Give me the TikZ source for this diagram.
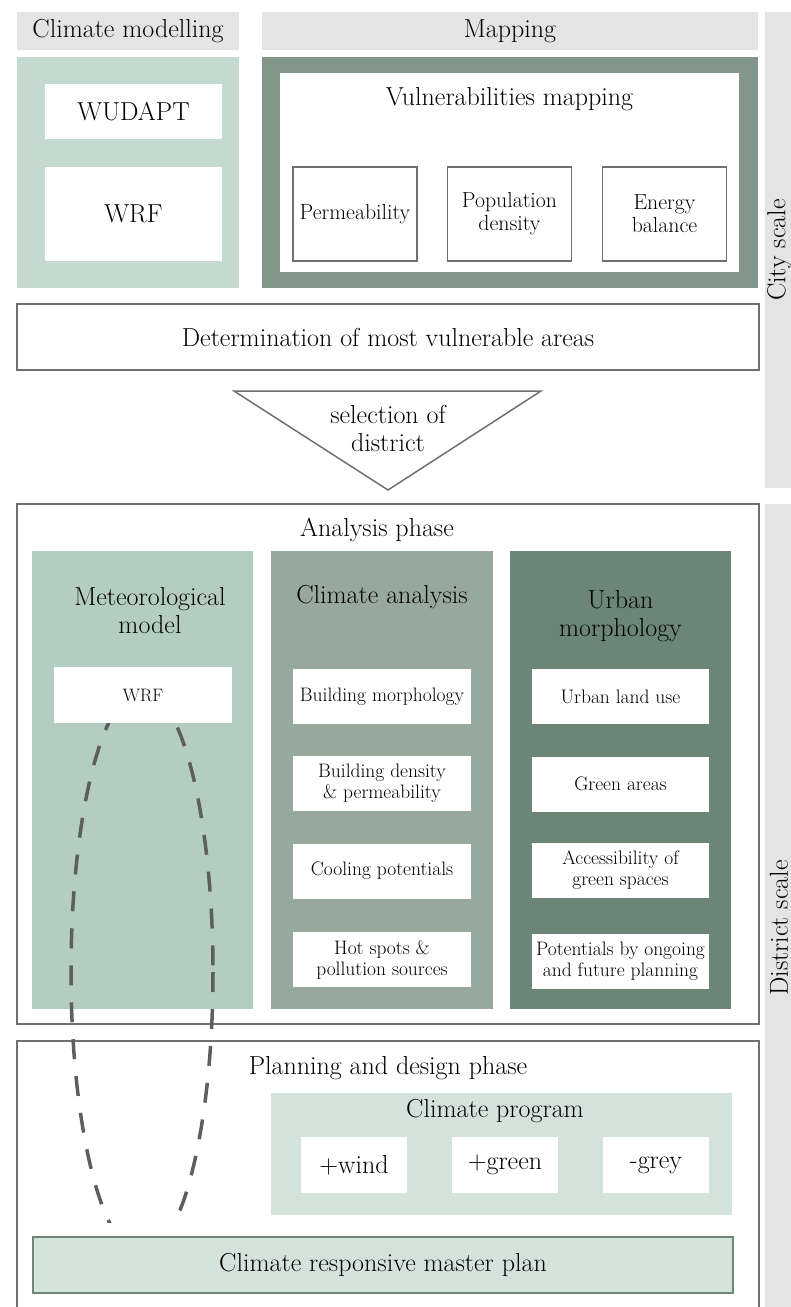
\documentclass[tikz,border=0pt]{standalone}
\usepackage{fontspec}
\usepackage{tikz}
\usepackage{xcolor}
\usetikzlibrary{positioning}

\definecolor{bandgrey}{HTML}{E4E4E4}
\definecolor{linegrey}{HTML}{707070}
\definecolor{dashgrey}{HTML}{5E5E5E}
\definecolor{climfill}{HTML}{C4D9CF}
\definecolor{mapfill}{HTML}{82978A}
\definecolor{meteofill}{HTML}{B3CDC1}
\definecolor{anafill}{HTML}{97A89F}
\definecolor{urbfill}{HTML}{6B8676}
\definecolor{progfill}{HTML}{D3E2DB}
\definecolor{mastline}{HTML}{6F8777}

\begin{document}
\begin{tikzpicture}[x=1pt, y=-1pt,
	bigtxt/.style={font=\fontsize{26}{28}\selectfont},
	midtxt/.style={font=\fontsize{21.8}{23}\selectfont},
	smltxt/.style={font=\fontsize{19.5}{21}\selectfont},
	band/.style={fill=bandgrey, inner sep=0pt, bigtxt},
	panel/.style={inner sep=0pt, minimum width=221pt, minimum height=458pt},
	wbox/.style={fill=white, inner sep=0pt, align=center},
	item/.style={wbox, smltxt, minimum width=178pt, minimum height=55pt},
	outbox/.style={draw=linegrey, line width=2pt, inner sep=0pt}]

\useasboundingbox (0,0) rectangle (791,1307);

\node[band, minimum width=222pt, minimum height=38pt](ClimHd) at (128,31) {Climate modelling};
\node[band, minimum width=496pt, minimum height=38pt](MapHd) at (510,31) {Mapping};
\node[band, minimum width=26pt, minimum height=476pt](CityBar) at (778,250) {};
\node[bigtxt, rotate=90](CitySc) at (779,250) {City scale};
\node[band, minimum width=26pt, minimum height=803pt](DistBar) at (778,905.5) {};
\node[bigtxt, rotate=90](DistSc) at (779,928) {District scale};

\node[fill=climfill, inner sep=0pt, minimum width=222pt, minimum height=231pt](Clim) at (128,172.5) {};
\node[wbox, bigtxt, minimum width=177pt, minimum height=55pt](Wud) at (133.5,111.5) {WUDAPT};
\node[wbox, bigtxt, minimum width=177pt, minimum height=94pt](WrfC) at (133.5,214) {WRF};

\node[fill=mapfill, inner sep=0pt, minimum width=496pt, minimum height=231pt](Map) at (510,172.5) {};
\node[wbox, minimum width=459pt, minimum height=199pt](Vuln) at (509.5,172.5) {};
\node[bigtxt](VulnT) at (509.5,99) {Vulnerabilities mapping};
\node[wbox, midtxt, draw=linegrey, line width=1.5pt, minimum width=124pt, minimum height=94pt](Perm) at (355,214) {Permeability};
\node[wbox, midtxt, draw=linegrey, line width=1.5pt, minimum width=124pt, minimum height=94pt](Popu) at (509.5,214) {Population\\density};
\node[wbox, midtxt, draw=linegrey, line width=1.5pt, minimum width=124pt, minimum height=94pt](Ener) at (664.5,214) {Energy\\balance};

\node[outbox, bigtxt, minimum width=742pt, minimum height=66pt](Det) at (388,337) {Determination of most vulnerable areas};
\draw[linegrey, line width=1.5pt] (234,391) -- (541,391) -- (388,490) -- cycle;
\node[bigtxt, align=center](Sel) at (388,428) {selection of\\district};

\node[outbox, minimum width=742pt, minimum height=520pt](Ana) at (388,764) {};
\node[bigtxt](AnaT) at (377,530) {Analysis phase};

\node[panel, fill=meteofill](Met) at (142.5,780) {};
\node[bigtxt, align=center](MetT) at (150,611) {Meteorological\\model};
\node[wbox, font=\fontsize{18}{20}\selectfont, minimum width=178pt, minimum height=56pt](WrfD) at (143,695) {WRF};

\node[panel, fill=anafill, minimum width=222pt](Ana2) at (382,780) {};
\node[bigtxt](AnaT2) at (382,597) {Climate analysis};
\node[item](Bm) at (382,696.5) {Building morphology};
\node[item](Bd) at (382,783.5) {Building density\\\& permeability};
\node[item](Cp) at (382,871) {Cooling potentials};
\node[item](Hs) at (382,959.5) {Hot spots \&\\pollution sources};

\node[panel, fill=urbfill](Urb) at (620.5,780) {};
\node[bigtxt, align=center](UrbT) at (620.5,616) {Urban\\morphology};
\node[item, minimum width=177pt](Lu) at (620.5,696.5) {Urban land use};
\node[item, minimum width=177pt](Ga) at (620.5,784) {Green areas};
\node[item, minimum width=177pt](Ac) at (620.5,870.5) {Accessibility of\\green spaces};
\node[item, minimum width=177pt](Po) at (620.5,961) {Potentials by ongoing\\and future planning};

\node[outbox, minimum width=742pt, minimum height=279pt](Plan) at (388,1180.5) {};
\node[bigtxt](PlanT) at (388,1068) {Planning and design phase};
\node[fill=progfill, inner sep=0pt, minimum width=461pt, minimum height=122pt](Prog) at (501.5,1154) {};
\node[bigtxt](ProgT) at (495,1111) {Climate program};
\node[wbox, bigtxt, minimum width=106pt, minimum height=56pt](Wind) at (354,1165) {+wind};
\node[wbox, bigtxt, minimum width=106pt, minimum height=56pt](Green) at (505,1165) {+green};
\node[wbox, bigtxt, minimum width=106pt, minimum height=56pt](Grey) at (656,1165) {-grey};
\node[bigtxt, fill=progfill, draw=mastline, line width=2pt, minimum width=700pt, minimum height=56pt](Mast) at (383,1265) {Climate responsive master plan};

\begin{scope}
	\clip (0,723) rectangle (300,1222);
	\draw[dashgrey, line width=3.5pt, dash pattern=on 20pt off 17pt] (142,972) ellipse [x radius=71, y radius=282];
\end{scope}
\end{tikzpicture}
\end{document}
